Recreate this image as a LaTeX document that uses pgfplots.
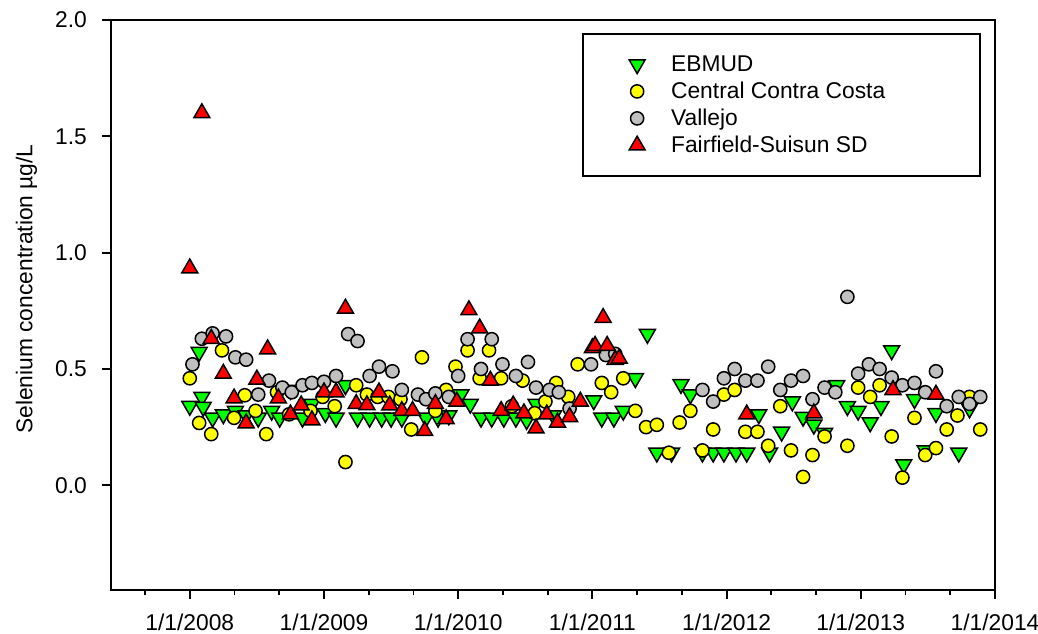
\documentclass[border=0pt]{standalone}
\usepackage{fontspec}
\setmainfont{Liberation Sans}
\usepackage{pgfplots}
\pgfplotsset{compat=1.18}

\definecolor{ebgreen}{RGB}{0,255,0}
\definecolor{ccyellow}{RGB}{255,255,0}
\definecolor{vagrey}{RGB}{192,192,192}
\definecolor{ffred}{RGB}{255,0,0}

\newcommand{\lbl}{\fontsize{11.4}{13.7}\selectfont}
\newcommand{\lrow}{\rule[-3pt]{0pt}{12pt}}

\begin{document}
\begin{tikzpicture}
\begin{axis}[
    scale only axis,
    width=442pt, height=285pt,
    xmin=2007.413, xmax=2014,
    ymin=-0.45, ymax=2.0,
    line width=0.9pt,
    tick align=outside,
    xtick pos=bottom, ytick pos=left,
    major tick length=4.3pt, minor tick length=2.7pt,
    tick style={black, line width=0.9pt},
    xtick={2008,2009,2010,2011,2012,2013,2014},
    xticklabels={1/1/2008,1/1/2009,1/1/2010,1/1/2011,1/1/2012,1/1/2013,1/1/2014},
    minor xtick={2007.6667,2008.3333,2008.6667,2009.3333,2009.6667,2010.3333,2010.6667,
                 2011.3333,2011.6667,2012.3333,2012.6667,2013.3333,2013.6667},
    ytick={0,0.5,1.0,1.5,2.0},
    yticklabel style={/pgf/number format/fixed, /pgf/number format/fixed zerofill,
                      /pgf/number format/precision=1, xshift=-4pt},
    xticklabel style={yshift=-4pt},
    /pgf/number format/assume math mode=true,
    ticklabel style={font=\lbl},
    ylabel={Selenium concentration µg/L},
    ylabel style={font=\lbl, at={(axis description cs:-0.0956,0.528)}, anchor=center},
    legend cell align=left,
    legend style={at={(rel axis cs:1,1)}, anchor=north east, xshift=-7pt, yshift=-6.5pt,
                  draw=black, line width=0.9pt, inner xsep=23pt, inner ysep=10pt,
                  row sep=3pt, font=\lbl, nodes={inner sep=0pt}},
]

% EBMUD
\addplot[only marks, mark=triangle*, mark size=4.6pt,
         mark options={rotate=180, fill=ebgreen, draw=black, line width=0.75pt}]
coordinates {
(2008.00,0.341) (2008.07,0.573) (2008.09,0.38) (2008.10,0.337) (2008.17,0.29)
(2008.25,0.305) (2008.34,0.32) (2008.42,0.30) (2008.51,0.29) (2008.61,0.32)
(2008.67,0.29) (2008.75,0.41) (2008.84,0.29) (2008.91,0.35) (2009.01,0.31)
(2009.09,0.29) (2009.16,0.43) (2009.25,0.29) (2009.34,0.29) (2009.43,0.29)
(2009.50,0.29) (2009.58,0.29) (2009.76,0.29) (2009.85,0.29) (2009.93,0.30)
(2010.02,0.39) (2010.09,0.35) (2010.17,0.29) (2010.25,0.29) (2010.34,0.29)
(2010.43,0.29) (2010.51,0.28) (2010.58,0.35) (2010.71,0.30) (2011.01,0.365)
(2011.07,0.29) (2011.16,0.29) (2011.23,0.32) (2011.32,0.46) (2011.41,0.65)
(2011.48,0.14) (2011.59,0.14) (2011.66,0.435) (2011.73,0.39) (2011.82,0.14)
(2011.90,0.14) (2011.98,0.14) (2012.07,0.14) (2012.15,0.14) (2012.24,0.305)
(2012.32,0.14) (2012.41,0.23) (2012.49,0.36) (2012.57,0.294) (2012.65,0.26)
(2012.73,0.225) (2012.82,0.43) (2012.90,0.34) (2012.98,0.32) (2013.07,0.27)
(2013.15,0.34) (2013.23,0.58) (2013.32,0.09) (2013.40,0.37) (2013.48,0.15)
(2013.56,0.31) (2013.73,0.14) (2013.81,0.33)
};
\addlegendentry{\makebox[144.5pt][l]{\lrow\hspace*{13pt}EBMUD}}

% Central Contra Costa
\addplot[only marks, mark=*, mark size=3.3pt,
         mark options={fill=ccyellow, draw=black, line width=0.75pt}]
coordinates {
(2008.00,0.46) (2008.07,0.268) (2008.16,0.22) (2008.24,0.58) (2008.33,0.29)
(2008.41,0.387) (2008.49,0.32) (2008.57,0.22) (2008.65,0.40) (2008.74,0.305)
(2008.90,0.32) (2008.99,0.38) (2009.08,0.34) (2009.16,0.10) (2009.24,0.43)
(2009.32,0.39) (2009.40,0.38) (2009.48,0.38) (2009.57,0.37) (2009.65,0.24)
(2009.73,0.55) (2009.83,0.32) (2009.91,0.41) (2009.98,0.51) (2010.07,0.58)
(2010.16,0.46) (2010.23,0.58) (2010.32,0.46) (2010.40,0.34) (2010.48,0.45)
(2010.57,0.31) (2010.65,0.36) (2010.73,0.44) (2010.82,0.38) (2010.89,0.52)
(2011.07,0.44) (2011.14,0.40) (2011.23,0.46) (2011.32,0.32) (2011.40,0.25)
(2011.48,0.26) (2011.57,0.14) (2011.65,0.27) (2011.73,0.32) (2011.82,0.15)
(2011.90,0.24) (2011.98,0.39) (2012.06,0.41) (2012.14,0.23) (2012.23,0.23)
(2012.31,0.17) (2012.40,0.34) (2012.48,0.15) (2012.57,0.036) (2012.64,0.13)
(2012.73,0.21) (2012.90,0.17) (2012.98,0.42) (2013.07,0.38) (2013.14,0.43)
(2013.23,0.21) (2013.31,0.033) (2013.40,0.29) (2013.48,0.13) (2013.56,0.16)
(2013.64,0.24) (2013.72,0.30) (2013.81,0.38) (2013.89,0.24)
};
\addlegendentry{\makebox[144.5pt][l]{\lrow\hspace*{13pt}Central Contra Costa}}

% Vallejo
\addplot[only marks, mark=*, mark size=3.3pt,
         mark options={fill=vagrey, draw=black, line width=0.75pt}]
coordinates {
(2008.02,0.52) (2008.09,0.63) (2008.17,0.653) (2008.27,0.64) (2008.34,0.55)
(2008.42,0.54) (2008.51,0.39) (2008.59,0.45) (2008.69,0.42) (2008.76,0.40)
(2008.84,0.43) (2008.91,0.44) (2009.00,0.445) (2009.09,0.47) (2009.18,0.65)
(2009.25,0.62) (2009.34,0.47) (2009.41,0.51) (2009.51,0.49) (2009.58,0.41)
(2009.70,0.39) (2009.76,0.37) (2009.83,0.395) (2009.93,0.38) (2010.00,0.47)
(2010.07,0.628) (2010.17,0.50) (2010.25,0.628) (2010.33,0.52) (2010.43,0.47)
(2010.52,0.53) (2010.58,0.42) (2010.68,0.41) (2010.75,0.40) (2010.83,0.33)
(2010.99,0.52) (2011.10,0.56) (2011.17,0.565) (2011.82,0.41) (2011.90,0.36)
(2011.98,0.46) (2012.06,0.50) (2012.14,0.45) (2012.23,0.45) (2012.31,0.51)
(2012.40,0.41) (2012.48,0.45) (2012.57,0.47) (2012.64,0.37) (2012.73,0.42)
(2012.81,0.40) (2012.90,0.81) (2012.98,0.48) (2013.06,0.52) (2013.14,0.50)
(2013.23,0.463) (2013.31,0.43) (2013.40,0.44) (2013.48,0.40) (2013.56,0.49)
(2013.64,0.34) (2013.73,0.38) (2013.81,0.35) (2013.89,0.38)
};
\addlegendentry{\makebox[144.5pt][l]{\lrow\hspace*{13pt}Vallejo}}

% Fairfield-Suisun SD
\addplot[only marks, mark=triangle*, mark size=4.6pt,
         mark options={fill=ffred, draw=black, line width=0.75pt}]
coordinates {
(2008.00,0.933) (2008.09,1.60) (2008.16,0.63) (2008.25,0.48) (2008.33,0.374)
(2008.42,0.267) (2008.50,0.455) (2008.58,0.585) (2008.66,0.374) (2008.75,0.305)
(2008.83,0.344) (2008.91,0.28) (2009.00,0.40) (2009.09,0.40) (2009.16,0.76)
(2009.24,0.35) (2009.32,0.345) (2009.41,0.40) (2009.49,0.344) (2009.58,0.32)
(2009.66,0.32) (2009.75,0.234) (2009.83,0.35) (2009.91,0.285) (2009.99,0.36)
(2010.08,0.753) (2010.16,0.675) (2010.24,0.45) (2010.32,0.32) (2010.41,0.344)
(2010.49,0.31) (2010.58,0.245) (2010.66,0.305) (2010.74,0.27) (2010.83,0.294)
(2010.91,0.36) (2011.00,0.59) (2011.02,0.60) (2011.08,0.72) (2011.11,0.60)
(2011.17,0.54) (2011.20,0.545) (2012.15,0.305) (2012.65,0.31) (2013.24,0.41)
(2013.56,0.39)
};
\addlegendentry{\makebox[144.5pt][l]{\lrow\hspace*{13pt}Fairfield-Suisun SD}}

\end{axis}
\pgfresetboundingbox
\path (-55.5pt,-21.75pt) rectangle (463.5pt,295pt);
\end{tikzpicture}
\end{document}
